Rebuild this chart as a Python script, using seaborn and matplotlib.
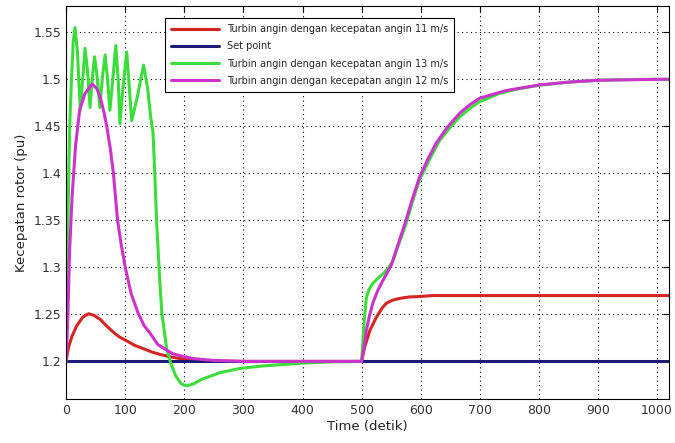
import matplotlib
matplotlib.use("Agg")
from matplotlib import pyplot as plt
from matplotlib.ticker import MultipleLocator, FormatStrFormatter
import seaborn as sns
import pandas as pd
import numpy as np

# values (time in s, rotor speed in pu)
t_11 = [0, 2, 4, 10, 18, 28, 38, 47, 57, 68, 80, 90, 102, 116, 131, 145, 159, 175, 193, 226, 270, 300, 500,
        505, 514, 525, 535, 542, 552, 564, 580, 598, 620, 1020]
v_11 = [1.2, 1.208, 1.215, 1.227, 1.238, 1.247, 1.2507, 1.249, 1.245, 1.238, 1.231, 1.226, 1.222, 1.217, 1.2135,
        1.21, 1.2074, 1.205, 1.203, 1.201, 1.2003, 1.2, 1.2,
        1.215, 1.233, 1.247, 1.257, 1.262, 1.265, 1.267, 1.2685, 1.269, 1.27, 1.27]

t_sp = [0, 1020]
v_sp = [1.2, 1.2]

t_13 = [0, 3, 6, 9, 12, 15, 19, 24, 28, 32, 36, 40.5, 44, 48, 52, 57, 61, 66, 70, 74, 79, 84, 88, 91, 96, 102.5,
        107, 111, 120, 131, 138, 143, 147, 150, 153, 158, 162, 170, 176, 185, 195, 204, 215, 230, 260, 294, 330,
        395, 450, 500,
        504, 508, 513, 519, 527, 536, 545, 553, 563, 575, 586, 598, 615, 632, 650, 666, 683, 699, 733, 766, 800,
        850, 900, 950, 1000, 1020]
v_13 = [1.2, 1.35, 1.45, 1.5, 1.54, 1.555, 1.53, 1.467, 1.5, 1.533, 1.51, 1.47, 1.5, 1.524, 1.505, 1.47, 1.5,
        1.526, 1.5, 1.467, 1.5, 1.536, 1.5, 1.453, 1.49, 1.529, 1.49, 1.456, 1.48, 1.515, 1.49, 1.46, 1.443, 1.40,
        1.35, 1.29, 1.251, 1.214, 1.2, 1.185, 1.176, 1.174, 1.176, 1.181, 1.188, 1.1925, 1.195, 1.198, 1.1995, 1.2,
        1.24, 1.268, 1.277, 1.283, 1.288, 1.293, 1.299, 1.307, 1.325, 1.346, 1.37, 1.393, 1.415, 1.435, 1.449,
        1.46, 1.469, 1.476, 1.485, 1.49, 1.4936, 1.497, 1.499, 1.4997, 1.5, 1.5]

t_12 = [0, 3, 6, 10, 16, 23, 32, 44, 52, 58, 64, 69, 75, 80, 87, 93, 100, 110, 122, 132, 142, 155, 170, 181, 200,
        215, 250, 300, 500,
        504, 508, 513, 519, 527, 536, 550, 562, 575, 586, 598, 612, 626, 645, 666, 683, 700, 744, 800, 850, 900,
        1000, 1020]
v_12 = [1.2, 1.25, 1.32, 1.375, 1.43, 1.468, 1.485, 1.495, 1.49, 1.48, 1.465, 1.449, 1.425, 1.4, 1.35, 1.325, 1.3,
        1.272, 1.251, 1.238, 1.23, 1.218, 1.212, 1.208, 1.205, 1.203, 1.201, 1.2, 1.2,
        1.215, 1.233, 1.248, 1.262, 1.275, 1.286, 1.302, 1.325, 1.35, 1.373, 1.396, 1.415, 1.432, 1.449, 1.464,
        1.473, 1.48, 1.488, 1.494, 1.497, 1.499, 1.5, 1.5]

labels = [
    "Turbin angin dengan kecepatan angin 11 m/s",
    "Set point",
    "Turbin angin dengan kecepatan angin 13 m/s",
    "Turbin angin dengan kecepatan angin 12 m/s",
]
colors = ["#d42424", "#1c1c78", "#3ddc3d", "#cc33cc"]

frames = []
for lab, t, v in zip(labels, [t_11, t_sp, t_13, t_12], [v_11, v_sp, v_13, v_12]):
    frames.append(pd.DataFrame({"t": t, "v": v, "series": lab}))
df = pd.concat(frames, ignore_index=True)

sns.set_style("white")
plt.rcParams["font.family"] = ["DejaVu Sans"]

fig = plt.figure(figsize=(6.75, 4.43), dpi=100)
ax = fig.add_axes([0.098, 0.0993, 0.893, 0.8872])

sns.lineplot(
    data=df, x="t", y="v", hue="series", hue_order=labels, palette=colors,
    estimator=None, sort=False, linewidth=2.2, ax=ax,
)

ax.set_xlim(0, 1020)
ax.set_ylim(1.16, 1.578)
ax.xaxis.set_major_locator(MultipleLocator(100))
ax.set_yticks([1.2, 1.25, 1.3, 1.35, 1.4, 1.45, 1.5, 1.55],
              ["1.2", "1.25", "1.3", "1.35", "1.4", "1.45", "1.5", "1.55"])
ax.tick_params(direction="in", top=True, right=True, length=4, width=0.8,
               labelsize=9, labelcolor="#333333", color="black")
ax.grid(True, linestyle=(0, (1, 3)), color="black", linewidth=0.8)
for s in ax.spines.values():
    s.set_color("black")
    s.set_linewidth(0.8)

ax.set_xlabel("Time (detik)", fontsize=9.5, color="#222222", labelpad=2)
ax.set_ylabel("Kecepatan rotor (pu)", fontsize=9.5, color="#222222", labelpad=4)

leg = ax.legend(loc="upper left", bbox_to_anchor=(0.164, 0.969), borderaxespad=0,
                fancybox=False, framealpha=1, edgecolor="black", fontsize=7,
                handlelength=5.0, labelspacing=0.75, borderpad=0.6)
leg.get_frame().set_linewidth(0.8)

fig.savefig("out.png", dpi=100)
